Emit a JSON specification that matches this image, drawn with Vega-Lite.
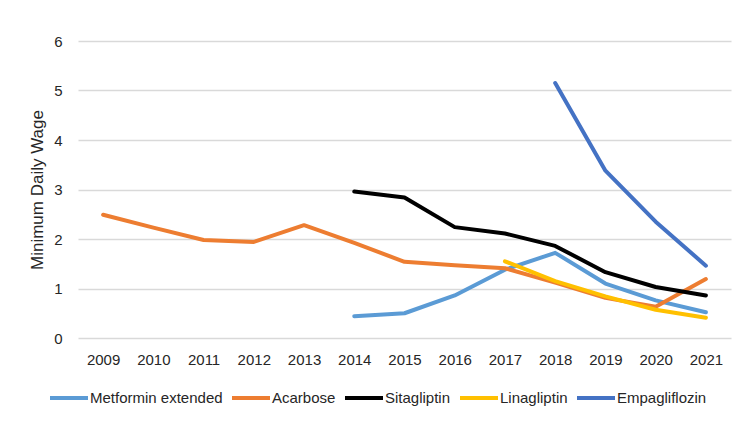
{
  "$schema": "https://vega.github.io/schema/vega-lite/v6.json",
  "autosize": "none",
  "width": 653,
  "height": 297,
  "padding": {"left": 78, "top": 41, "right": 24, "bottom": 89},
  "background": "white",
  "config": {
    "font": "Liberation Sans",
    "view": {"stroke": null}
  },
  "data": {
    "values": [
      {"year": "2014", "drug": "Metformin extended", "value": 0.44},
      {"year": "2015", "drug": "Metformin extended", "value": 0.50},
      {"year": "2016", "drug": "Metformin extended", "value": 0.86},
      {"year": "2017", "drug": "Metformin extended", "value": 1.38},
      {"year": "2018", "drug": "Metformin extended", "value": 1.72},
      {"year": "2019", "drug": "Metformin extended", "value": 1.10},
      {"year": "2020", "drug": "Metformin extended", "value": 0.76},
      {"year": "2021", "drug": "Metformin extended", "value": 0.52},
      {"year": "2009", "drug": "Acarbose", "value": 2.49},
      {"year": "2010", "drug": "Acarbose", "value": 2.23},
      {"year": "2011", "drug": "Acarbose", "value": 1.98},
      {"year": "2012", "drug": "Acarbose", "value": 1.94},
      {"year": "2013", "drug": "Acarbose", "value": 2.28},
      {"year": "2014", "drug": "Acarbose", "value": 1.92},
      {"year": "2015", "drug": "Acarbose", "value": 1.54},
      {"year": "2016", "drug": "Acarbose", "value": 1.47},
      {"year": "2017", "drug": "Acarbose", "value": 1.41},
      {"year": "2018", "drug": "Acarbose", "value": 1.12},
      {"year": "2019", "drug": "Acarbose", "value": 0.81},
      {"year": "2020", "drug": "Acarbose", "value": 0.63},
      {"year": "2021", "drug": "Acarbose", "value": 1.19},
      {"year": "2014", "drug": "Sitagliptin", "value": 2.96},
      {"year": "2015", "drug": "Sitagliptin", "value": 2.84},
      {"year": "2016", "drug": "Sitagliptin", "value": 2.24},
      {"year": "2017", "drug": "Sitagliptin", "value": 2.11},
      {"year": "2018", "drug": "Sitagliptin", "value": 1.86},
      {"year": "2019", "drug": "Sitagliptin", "value": 1.33},
      {"year": "2020", "drug": "Sitagliptin", "value": 1.03},
      {"year": "2021", "drug": "Sitagliptin", "value": 0.86},
      {"year": "2017", "drug": "Linagliptin", "value": 1.55},
      {"year": "2018", "drug": "Linagliptin", "value": 1.15},
      {"year": "2019", "drug": "Linagliptin", "value": 0.84},
      {"year": "2020", "drug": "Linagliptin", "value": 0.57},
      {"year": "2021", "drug": "Linagliptin", "value": 0.41},
      {"year": "2018", "drug": "Empagliflozin", "value": 5.15},
      {"year": "2019", "drug": "Empagliflozin", "value": 3.38},
      {"year": "2020", "drug": "Empagliflozin", "value": 2.35},
      {"year": "2021", "drug": "Empagliflozin", "value": 1.46}
    ]
  },
  "mark": {"type": "line", "strokeWidth": 4, "strokeCap": "round", "strokeJoin": "round"},
  "encoding": {
    "x": {
      "field": "year",
      "type": "ordinal",
      "scale": {"type": "point", "padding": 0.5, "domain": ["2009","2010","2011","2012","2013","2014","2015","2016","2017","2018","2019","2020","2021"]},
      "axis": {
        "title": null,
        "labelAngle": 0,
        "domain": false,
        "ticks": false,
        "grid": false,
        "labelFontSize": 15,
        "labelColor": "#262626",
        "labelPadding": 14
      }
    },
    "y": {
      "field": "value",
      "type": "quantitative",
      "scale": {"domain": [0, 6], "nice": false},
      "axis": {
        "title": "Minimum Daily Wage",
        "titleFontSize": 17,
        "titleFontWeight": "normal",
        "titleColor": "#262626",
        "titlePadding": 7,
        "values": [0, 1, 2, 3, 4, 5, 6],
        "domain": false,
        "ticks": false,
        "gridColor": "#d9d9d9",
        "gridWidth": 1.5,
        "labelFontSize": 15,
        "labelColor": "#262626",
        "labelPadding": 16
      }
    },
    "color": {
      "field": "drug",
      "type": "nominal",
      "sort": ["Metformin extended", "Acarbose", "Sitagliptin", "Linagliptin", "Empagliflozin"],
      "scale": {
        "domain": ["Metformin extended", "Acarbose", "Sitagliptin", "Linagliptin", "Empagliflozin"],
        "range": ["#5B9BD5", "#ED7D31", "#000000", "#FFC000", "#4472C4"]
      },
      "legend": {
        "title": null,
        "orient": "none",
        "legendX": -30,
        "legendY": 336,
        "direction": "horizontal",
        "symbolType": "stroke",
        "symbolStrokeWidth": 4,
        "symbolSize": 1444,
        "labelFontSize": 15,
        "labelColor": "#262626",
        "labelOffset": 0,
        "columnPadding": 1,
        "labelLimit": 200
      }
    },
    "order": {"field": "year"}
  }
}
